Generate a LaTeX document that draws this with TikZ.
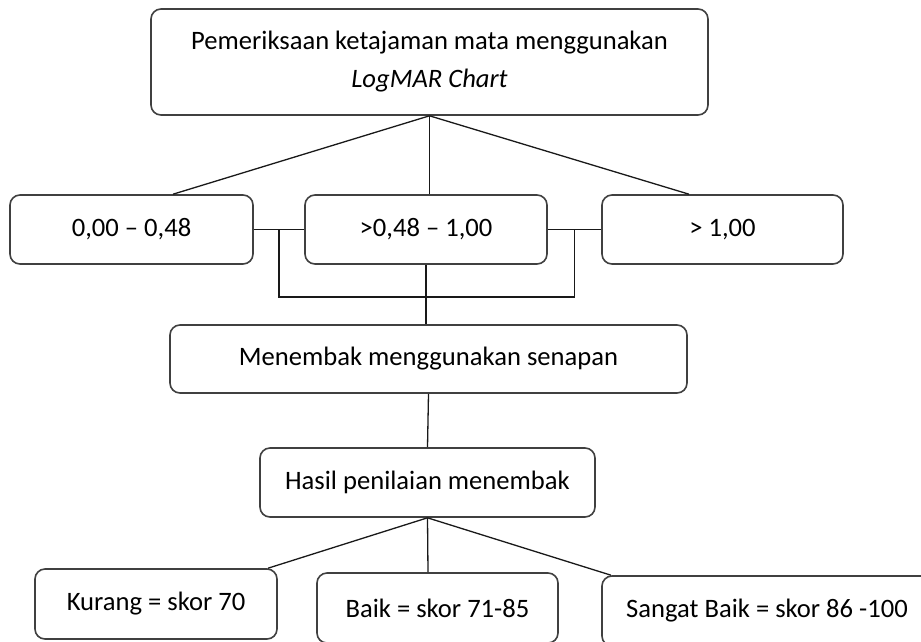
\documentclass[tikz,border=0pt]{standalone}
\usepackage{fontspec}
\setmainfont{Carlito}
\usepackage{tikz}
\usetikzlibrary{positioning, calc}

\begin{document}
\begin{tikzpicture}[x=1pt, y=-1pt]
					\tikzset{
						kotak/.style={draw=black!75, line width=1.6pt, rounded corners=10pt, align=center, inner sep=0pt, font=\fontsize{26.6}{38}\selectfont},
						garis/.style={line width=1.3pt, black!90}
					}
					\useasboundingbox (0,0) rectangle (921,641);
					\clip (0,0) rectangle (921,641);
					
					% 顶部
					\node[kotak, minimum width=557pt, minimum height=106pt] (periksa) at (429.5,62) {Pemeriksaan ketajaman mata menggunakan\\ \textit{LogMAR Chart}};
					
					% 三个区间
					\node[kotak, minimum width=243pt, minimum height=69pt] (kiri) at (131.5,229.5) {0,00 – 0,48};
					\node[kotak, minimum width=242pt, minimum height=69pt] (tengah) at (426,229.5) {>0,48 – 1,00};
					\node[kotak, minimum width=241pt, minimum height=69pt] (kanan) at (722.5,229.5) {> 1,00};
					
					% 中间两步
					\node[kotak, minimum width=517pt, minimum height=68pt] (menembak) at (428.5,359) {Menembak menggunakan senapan};
					\node[kotak, minimum width=335pt, minimum height=69pt] (hasil) at (427.5,482.5) {Hasil penilaian menembak};
					
					% 评分
					\node[kotak, minimum width=242pt, minimum height=70pt] (kurang) at (156,604) {Kurang = skor 70};
					\node[kotak, minimum width=241pt, minimum height=70pt] (baik) at (437.5,608) {Baik = skor 71-85};
					\node[kotak, minimum width=330pt, minimum height=70pt] (sangat) at (767,611) {Sangat Baik = skor 86 -100};
					
					% 顶部 → 区间
					\draw[garis] (periksa.south) -- ([xshift=41.5pt]kiri.north);
					\draw[garis] (periksa.south) -- (periksa.south |- tengah.north);
					\draw[garis] (periksa.south) -- ([xshift=-33.5pt]kanan.north);
					
					% 区间 → 射击
					\coordinate (simpulkiri) at ($(kiri.east)!0.5!(tengah.west)$);
					\coordinate (simpulkanan) at ($(tengah.east)!0.5!(kanan.west)$);
					\coordinate (sudutkiri) at ($(simpulkiri)+(0,67.5)$);
					\coordinate (sudutkanan) at ($(simpulkanan)+(0,67.5)$);
					\draw[garis] (kiri.east) -- (tengah.west);
					\draw[garis] (tengah.east) -- (kanan.west);
					\draw[garis] (simpulkiri) -- (sudutkiri) -- (sudutkanan) -- (simpulkanan);
					\draw[garis] (tengah.south) -- (tengah.south |- menembak.north);
					\draw[garis] (menembak.south) -- (hasil.north);
					
					% 结果 → 评分
					\draw[garis] (hasil.south) -- ([xshift=112pt]kurang.north);
					\draw[garis] (hasil.south) -- ([xshift=-9.5pt]baik.north);
					\draw[garis] (hasil.south) -- ([xshift=-156pt]sangat.north);
				\end{tikzpicture}
\end{document}
